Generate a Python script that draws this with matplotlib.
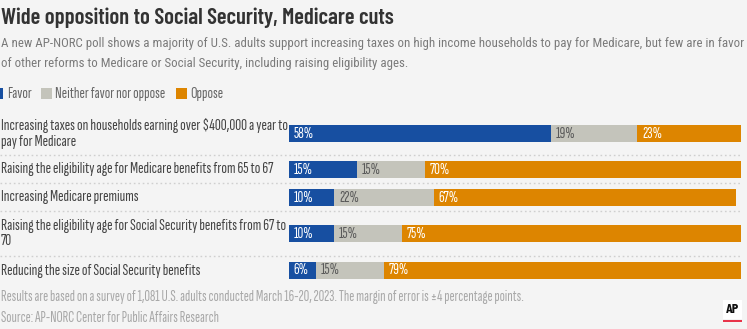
import matplotlib
matplotlib.use("Agg")
import matplotlib.pyplot as plt
from matplotlib.patches import Rectangle
from matplotlib.lines import Line2D

categories = [
    "Increasing taxes on households earning over $400,000 a year to\npay for Medicare",
    "Raising the eligibility age for Medicare benefits from 65 to 67",
    "Increasing Medicare premiums",
    "Raising the eligibility age for Social Security benefits from 67 to\n70",
    "Reducing the size of Social Security benefits",
]
favor = [58, 15, 10, 10, 6]
neither = [19, 15, 22, 15, 15]
oppose = [23, 70, 67, 75, 79]
series_names = ["Favor", "Neither favor nor oppose", "Oppose"]

title = "Wide opposition to Social Security, Medicare cuts"
subtitle = ["A new AP-NORC poll shows a majority of U.S. adults support increasing taxes on high income households to pay for Medicare, but few are in favor",
            "of other reforms to Medicare or Social Security, including raising eligibility ages."]
notes = ["Results are based on a survey of 1,081 U.S. adults conducted March 16-20, 2023. The margin of error is \u00b14 percentage points.",
         "Source: AP-NORC Center for Public Affairs Research"]

colors = ["#174fa1", "#c4c4bb", "#dd8500"]
label_colors = ["white", "#5a5a5a", "white"]
BG = "#f4f4f4"
F_TITLE = "Barlow Condensed"
F_SUB = "Roboto Condensed"
F_BODY = "Sofia Sans Extra Condensed"

W, H = 747, 329
fig = plt.figure(figsize=(W/100, H/100), dpi=100)
fig.patch.set_facecolor(BG)
renderer = fig.canvas.get_renderer()

def ftext(x, y, s, **kw):
    return fig.text(x/W, 1 - y/H, s, **kw)

def fit(t, target_px):
    w = t.get_window_extent(renderer).width
    t.set_fontsize(t.get_fontsize() * target_px / w)
    return t.get_fontsize()

# header
t = ftext(1, 18, title, fontsize=17, family=F_TITLE, weight="semibold", color="#333333", va="center")
fit(t, 393)
s1 = ftext(1, 44, subtitle[0], fontsize=10, family=F_SUB, color="#7a7a7a", va="center")
fs_sub = fit(s1, 735)
ftext(1, 63, subtitle[1], fontsize=fs_sub, family=F_SUB, color="#7a7a7a", va="center")

# legend
probe = ftext(0, -50, series_names[1], fontsize=9, family=F_BODY)
fs_leg = fit(probe, 110)
probe.remove()
leg_sq = [-8, 41, 176]
leg_tx = [7, 55, 190]
for i, name in enumerate(series_names):
    fig.patches.append(Rectangle((leg_sq[i]/W, 1 - 99/H), 11/W, 11/H, transform=fig.transFigure,
                                 facecolor=colors[i], edgecolor="none"))
    ftext(leg_tx[i], 93.5, name, fontsize=fs_leg, family=F_BODY, color="#666666", va="center")

# bar axes: x in percent, y in figure pixels
ax = fig.add_axes([289/W, 0, 452/W, 1])
ax.set_xlim(0, 100)
ax.set_ylim(H, 0)
ax.axis("off")
ax.patch.set_alpha(0)

probe = ftext(0, -50, "58%", fontsize=10, family=F_BODY, weight="medium")
fs_pct = fit(probe, 20)
probe.remove()

y_centers = [133.5, 169.5, 197.5, 233.5, 270.5]
bar_h = 17
lefts = [0] * len(categories)
for si, vals in enumerate([favor, neither, oppose]):
    ax.barh(y_centers, vals, left=lefts, height=bar_h, color=colors[si], edgecolor="none")
    for yc, l, v in zip(y_centers, lefts, vals):
        ax.annotate(f"{v}%", (l, yc), xytext=(3.5, 0), textcoords="offset points",
                    ha="left", va="center", fontsize=fs_pct, color=label_colors[si],
                    family=F_BODY, weight="medium" if si != 1 else "normal")
    lefts = [a + b for a, b in zip(lefts, vals)]

# category labels
base_ls = 1.2
probe = ftext(0, -50, categories[1], fontsize=10, family=F_BODY, linespacing=base_ls)
fs_lab = fit(probe, 272)
probe.set_text("Ag")
h1 = probe.get_window_extent(renderer).height
probe.set_text("Ag\nAg")
h2 = probe.get_window_extent(renderer).height
probe.remove()
ls = base_ls * 15.0 / max(h2 - h1, 1)
for yc, cat in zip(y_centers, categories):
    ftext(1, yc, cat, fontsize=fs_lab, family=F_BODY, color="#444444", va="center", linespacing=ls)

# dotted separators
for ys in [155, 183, 211, 256]:
    fig.lines.append(Line2D([0, 741/W], [1 - ys/H, 1 - ys/H], transform=fig.transFigure,
                            color="#cfcfcf", linestyle=(0, (1.2, 2)), linewidth=1))

# footer
n1 = ftext(1, 297, notes[0], fontsize=8, family=F_BODY, color="#a8a8a8", va="center")
fs_note = fit(n1, 520)
ftext(1, 318, notes[1], fontsize=fs_note, family=F_BODY, color="#a8a8a8", va="center")

# AP logo
fig.patches.append(Rectangle((723/W, 1 - 319/H), 19/W, 19/H, transform=fig.transFigure,
                             facecolor="white", edgecolor="none"))
ftext(732.5, 309.5, "AP", fontsize=10, family=F_TITLE, weight="bold", color="#111111",
      va="center", ha="center")
fig.patches.append(Rectangle((723/W, 1 - 322/H), 19/W, 2.5/H, transform=fig.transFigure,
                             facecolor="#e8344a", edgecolor="none"))

fig.savefig("out.png", dpi=100, facecolor=BG)
